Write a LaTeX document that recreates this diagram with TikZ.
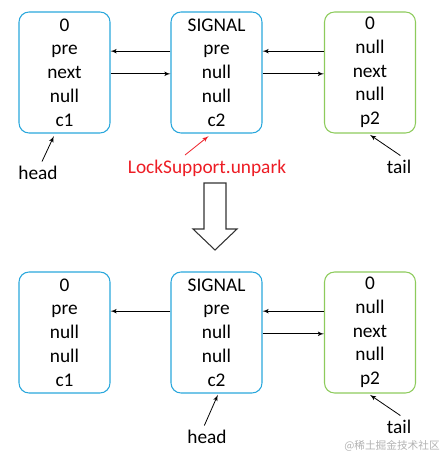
\documentclass[tikz,border=0pt]{standalone}
\usepackage{fontspec}
\setmainfont{Carlito}
\newfontfamily\cjkfont{Noto Sans CJK SC}
\usetikzlibrary{arrows,positioning}
\definecolor{boxblue}{RGB}{42,167,220}
\definecolor{boxgreen}{RGB}{141,203,92}
\definecolor{callred}{RGB}{237,28,36}
\tikzset{font=\fontsize{14.5}{17.8}\selectfont}
\tikzset{qnode/.style={rounded corners=7.5pt, minimum width=68.25pt,
    minimum height=90.75pt, align=center, inner sep=0pt, line width=0.8pt}}
\tikzset{bluebox/.style={qnode, draw=boxblue}}
\tikzset{greenbox/.style={qnode, draw=boxgreen}}
\tikzset{link/.style={-latex', line width=0.6pt}}

\begin{document}
\begin{tikzpicture}[x=0.75pt,y=-0.75pt]
  \useasboundingbox (0,0) rectangle (446,460);
% before
  \node[bluebox] (c1) at (64.5,72.5) {0\\pre\\next\\null\\c1};
  \node[bluebox] (c2) at (216.5,72.5) {SIGNAL\\pre\\null\\null\\c2};
  \node[greenbox] (p2) at (370,72.5) {0\\null\\next\\null\\p2};
  \draw[link] ([yshift=16pt]c2.west) -- ([yshift=16pt]c1.east);
  \draw[link] ([yshift=-1pt]c1.east) -- ([yshift=-1pt]c2.west);
  \draw[link] ([yshift=16pt]p2.west) -- ([yshift=16pt]c2.east);
  \draw[link] ([yshift=-1pt]c2.east) -- ([yshift=-1pt]p2.west);
  \node (head1) at (38,173) {head};
  \node[text=callred] (unpark) at (207,168) {LockSupport.unpark};
  \node (tail1) at (399,167) {tail};
  \draw[link] ([xshift=3pt]head1.north) -- ([xshift=-8pt,yshift=-2pt]c1.south);
  \draw[link, callred] ([xshift=-16.5pt]unpark.north) -- ([xshift=-6pt,yshift=-2pt]c2.south);
  \draw[link] ([xshift=1pt]tail1.north) -- ([yshift=-1pt]p2.south);
% big arrow
  \draw[line width=0.8pt, draw=black!80] (204,183) -- (226,183) -- (226,229)
    -- (237,229) -- (215,250) -- (193,229) -- (204,229) -- cycle;
% after
  \node[bluebox] (c1b) at (64.5,332.5) {0\\pre\\null\\null\\c1};
  \node[bluebox] (c2b) at (216.5,332.5) {SIGNAL\\pre\\null\\null\\c2};
  \node[greenbox] (p2b) at (370,332.5) {0\\null\\next\\null\\p2};
  \draw[link] ([yshift=16pt]c2b.west) -- ([yshift=16pt]c1b.east);
  \draw[link] ([yshift=16pt]p2b.west) -- ([yshift=16pt]c2b.east);
  \draw[link] ([yshift=-1pt]c2b.east) -- ([yshift=-1pt]p2b.west);
  \node (head2) at (207,437) {head};
  \node (tail2) at (399,427) {tail};
  \draw[link] ([xshift=-2pt]head2.north) -- ([xshift=1pt,yshift=-1pt]c2b.south);
  \draw[link] ([xshift=1pt]tail2.north) -- ([yshift=-1pt]p2b.south);
  \node[text=black!30, inner sep=0pt, font=\cjkfont\fontsize{8}{9}\selectfont] (mark) at (392,446) {@稀土掘金技术社区};
\end{tikzpicture}
\end{document}
